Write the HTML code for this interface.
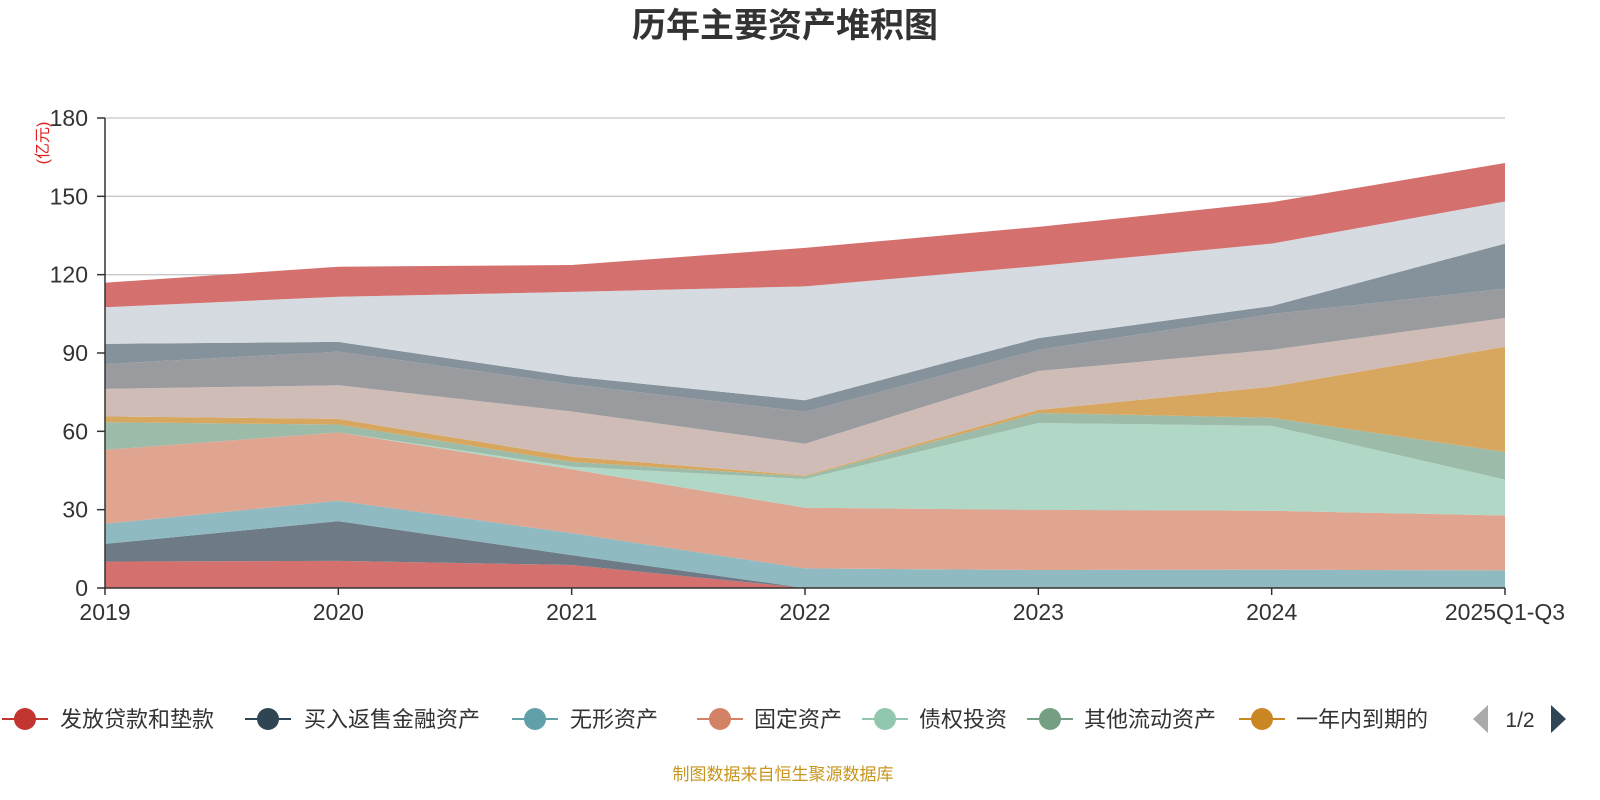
<!DOCTYPE html>
<html><head><meta charset="utf-8">
<style>
html,body{margin:0;padding:0;background:#fff;}
svg{display:block;font-family:"Liberation Sans","Noto Sans CJK SC",sans-serif;}
</style></head>
<body>
<svg id="chart" width="1600" height="800" viewBox="0 0 1600 800">
<text x="785" y="37" text-anchor="middle" font-size="34" font-weight="bold" fill="#333">历年主要资产堆积图</text>
<text transform="translate(48,143) rotate(-90)" text-anchor="middle" font-size="16" fill="#e02020">(亿元)</text>
<g id="grid"></g>
<g id="areas"></g>
<g id="axes"></g>
<g id="legend"></g>
<text x="783" y="780" text-anchor="middle" font-size="17" fill="#c8961e">制图数据来自恒生聚源数据库</text>
</svg>
<script>
const categories = ["2019","2020","2021","2022","2023","2024","2025Q1-Q3"];
const seriesNames = ["发放贷款和垫款","买入返售金融资产","无形资产","固定资产","债权投资","其他流动资产","一年内到期的","其他A","其他B","其他C","其他D","其他E"];
const s1 = [10.1, 10.4, 8.8, 0, 0, 0, 0];
const s2 = [6.8, 15.2, 3.8, 0, 0, 0, 0];
const s3 = [7.7, 7.8, 8.4, 7.5, 6.9, 7.0, 6.75];
const s4 = [28.3, 26.2, 24.5, 23.25, 23.0, 22.6, 21.0];
const s5 = [0, 0, 1.0, 11.0, 33.3, 32.5, 13.75];
const s6 = [10.6, 3.0, 1.8, 1.0, 3.8, 3.1, 10.6];
const s7 = [2.25, 2.15, 2.0, 0.35, 1.2, 11.9, 40.3];
const s8 = [10.5, 12.9, 17.3, 12.15, 14.9, 14.1, 11.0];
const s9 = [9.5, 12.9, 10.4, 12.25, 8.1, 13.7, 11.2];
const s10 = [7.75, 3.7, 3.0, 4.4, 4.5, 3.1, 17.3];
const s11 = [14.0, 17.3, 32.4, 43.6, 27.6, 23.9, 16.1];
const s12 = [9.4, 11.5, 10.3, 14.75, 15.0, 15.85, 14.75];
const yTicks = [0,30,60,90,120,150,180];
const legendLabels = ["发放贷款和垫款","买入返售金融资产","无形资产","固定资产","债权投资","其他流动资产","一年内到期的"];

const series = [s1,s2,s3,s4,s5,s6,s7,s8,s9,s10,s11,s12];
const fills = ["#d4706e","#6e7b86","#8fbac1","#dfa591","#b1d7c6","#9cbba8","#d8a75f","#d0bcb6","#9a9b9f","#85929b","#d6dbe1","#d4706e"];
const legendColors = ["#c23531","#2f4554","#61a0a8","#d48265","#91c7ae","#749f83","#ca8622"];
const X0=105, X1=1505, Y0=588, YT=118, YMAX=180;
const xPos = i => X0 + i*(X1-X0)/(categories.length-1);
const yPos = v => Y0 - v*(Y0-YT)/YMAX;
const NS="http://www.w3.org/2000/svg";
function mk(tag, attrs, parent){const e=document.createElementNS(NS,tag);for(const k in attrs)e.setAttribute(k,attrs[k]);parent.appendChild(e);return e;}

const grid=document.getElementById('grid'), axes=document.getElementById('axes'), areas=document.getElementById('areas'), legend=document.getElementById('legend');
yTicks.forEach(t=>{
  if(t>0){const l=mk('line',{x1:X0,x2:X1,y1:yPos(t),y2:yPos(t),stroke:'#c8c8c8','stroke-width':1.3},grid);
  
  }
  const tk=mk('line',{x1:X0-8,x2:X0,y1:yPos(t),y2:yPos(t),stroke:'#333','stroke-width':1.5},axes);
  
  
  const tx=mk('text',{x:X0-17,y:yPos(t)+8,'text-anchor':'end','font-size':23,fill:'#333'},axes);
  tx.textContent=t;
  
  
});
let base=categories.map(()=>0);
series.forEach((s,k)=>{
  const top=base.map((b,i)=>b+s[i]);
  let d='M'+categories.map((c,i)=>xPos(i)+','+yPos(top[i])).join('L');
  for(let i=categories.length-1;i>=0;i--) d+='L'+xPos(i)+','+yPos(base[i]);
  d+='Z';
  const p=mk('path',{d:d,fill:fills[k]},areas);
  
  
  base=top;
});
const ya=mk('line',{x1:X0,x2:X0,y1:YT,y2:Y0,stroke:'#333','stroke-width':1.5},axes);


const xa=mk('line',{x1:X0,x2:X1,y1:Y0,y2:Y0,stroke:'#333','stroke-width':1.5},axes);


categories.forEach((c,i)=>{
  const tk=mk('line',{x1:xPos(i),x2:xPos(i),y1:Y0,y2:Y0+7,stroke:'#333','stroke-width':1.5},axes);
  
  
  const tx=mk('text',{x:xPos(i),y:Y0+32,'text-anchor':'middle','font-size':23,fill:'#333'},axes);
  tx.textContent=c;
  
  
});
const lx=[25,268,535,720,885,1050,1262];
const tx0=[60,304,570,754,919,1084,1296];
legendLabels.forEach((n,i)=>{
  const g=mk('g',{},legend);
  
  
  mk('line',{x1:lx[i]-23,x2:lx[i]+23,y1:719,y2:719,stroke:legendColors[i],'stroke-width':2},g);
  mk('circle',{cx:lx[i],cy:719,r:11,fill:legendColors[i]},g);
  const t=mk('text',{x:tx0[i],y:727,'font-size':22,fill:'#333'},g);
  t.textContent=n;
});
const pl=mk('path',{d:'M1488,705 L1488,733 L1473,719 Z',fill:'#aaa'},legend);


const pt=mk('text',{x:1520,y:727,'text-anchor':'middle','font-size':21,fill:'#333'},legend);
pt.textContent='1/2';


const pr=mk('path',{d:'M1551,705 L1551,733 L1566,719 Z',fill:'#2f4554'},legend);


</script>
</body></html>
